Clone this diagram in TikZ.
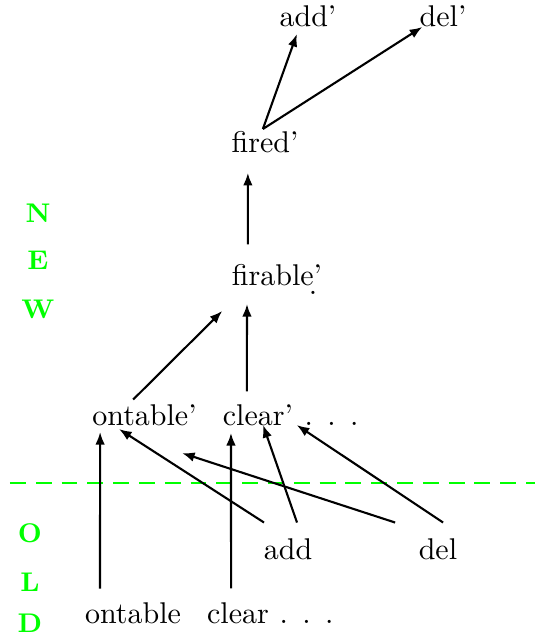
\documentclass[tikz,border=0pt]{standalone}
\usetikzlibrary{arrows.meta}
\begin{document}
\begin{tikzpicture}[
    word/.style={anchor=base},
    tag/.style={anchor=base, font=\small\bfseries, color=green},
    arr/.style={-{Latex[length=4.2pt,width=3.2pt]}, line width=0.7pt},
    divider/.style={green, line width=0.7pt, dash pattern=on 5.3pt off 3.3pt}
  ]
    \useasboundingbox (0, 0) rectangle (6.268, 7.439);

    % --- NEW layer ---
    \node[word] (addp) at (3.608, 7.123) {add'};
    \node[word] (delp) at (5.190, 7.123) {del'};
    \node[word] (firedp) at (3.104, 5.647) {fired'};
    \node[word] (firablep) at (3.245, 4.100) {firable'\llap{\raisebox{-3.25pt}[0pt][0pt]{.}\hspace{1.6pt}}};
    \node[word] (ontablep) at (1.693, 2.460) {ontable'};
    \node[word] (clearp) at (3.022, 2.460) {clear'};
    \node[word, anchor=base west] (morep) at (3.444, 2.460) {.\hspace{4.8pt}.\hspace{4.8pt}.};

    % --- OLD layer ---
    \node[word] (addo) at (3.374, 0.890) {add};
    \node[word] (delo) at (5.131, 0.890) {del};
    \node[word] (ontableo) at (1.558, 0.129) {ontable};
    \node[word] (clearo) at (2.788, 0.129) {clear};
    \node[word, anchor=base west] (moreo) at (3.151, 0.129) {.\hspace{4.8pt}.\hspace{4.8pt}.};

    % Side labels
    \node[tag] (tagN) at (0.445, 4.838) {N};
    \node[tag] (tagE) at (0.445, 4.276) {E};
    \node[tag] (tagW) at (0.445, 3.702) {W};
    \node[tag] (tagO) at (0.351, 1.089) {O};
    \node[tag] (tagL) at (0.351, 0.515) {L};
    \node[tag] (tagD) at (0.351, 0.035) {D};

    % Boundary between old and new
    \draw[divider] (0.117, 1.780) -- (6.268, 1.780);

    % Old -> new
    \draw[arr] ([shift={(-11pt,1.3pt)}]ontableo.north) -- ([shift={(-14.8pt,1.3pt)}]ontablep.south);
    \draw[arr] ([shift={(-2.3pt,1.4pt)}]clearo.north) -- ([shift={(-9pt,1pt)}]clearp.south);
    \draw[arr] ([shift={(-8pt,1.7pt)}]addo.north) -- ([shift={(-8.5pt,2.3pt)}]ontablep.south);
    \draw[arr] ([shift={(3pt,1.7pt)}]addo.north) -- ([xshift=1.7pt]clearp.base);
    \draw[arr] ([shift={(-14.3pt,1.7pt)}]delo.north) -- ([shift={(12.5pt,-5.7pt)}]ontablep.south);
    \draw[arr] ([shift={(1.7pt,1.7pt)}]delo.north) -- ([xshift=-2.3pt]clearp.base east);

    % New layer chain
    \draw[arr] ([shift={(-3.8pt,-2pt)}]ontablep.north) -- ([shift={(0.3pt,-5pt)}]firablep.south west);
    \draw[arr] ([shift={(-3.7pt,0.7pt)}]clearp.north) -- ([shift={(-10pt,-2.7pt)}]firablep.south);
    \draw[arr] ([shift={(-9.7pt,3pt)}]firablep.north) -- ([shift={(-5.7pt,-3pt)}]firedp.south);
    \draw[arr] ([shift={(-0.7pt,-2.6pt)}]firedp.north) -- ([shift={(-3.7pt,1.3pt)}]addp.south);
    \draw[arr] ([shift={(-0.7pt,-2.6pt)}]firedp.north) -- ([xshift=4.4pt]delp.base west);
  \end{tikzpicture}
\end{document}
